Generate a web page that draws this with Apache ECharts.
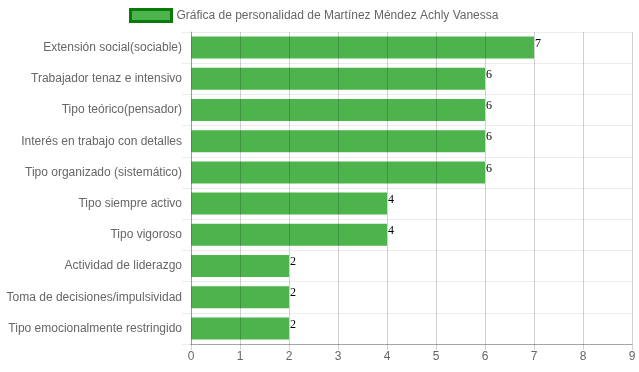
<!DOCTYPE html>
<html>
<head>
<meta charset="utf-8">
<script src="https://cdn.jsdelivr.net/npm/echarts@6/dist/echarts.min.js"></script>
<style>html,body{margin:0;padding:0;background:#fff}#c{width:639px;height:372px}</style>
</head>
<body>
<div id="c"></div>
<script>
const categories = [
  "Extensión social(sociable)",
  "Trabajador tenaz e intensivo",
  "Tipo teórico(pensador)",
  "Interés en trabajo con detalles",
  "Tipo organizado (sistemático)",
  "Tipo siempre activo",
  "Tipo vigoroso",
  "Actividad de liderazgo",
  "Toma de decisiones/impulsividad",
  "Tipo emocionalmente restringido"
];
const values = [7, 6, 6, 6, 6, 4, 4, 2, 2, 2];
const seriesName = "Gráfica de personalidad de Martínez Méndez Achly Vanessa";
const xTicks = { min: 0, max: 9, interval: 1 };

const chart = echarts.init(document.getElementById('c'), null, { renderer: 'canvas' });
chart.setOption({
  animation: false,
  textStyle: { fontFamily: 'Liberation Sans, Arial, sans-serif' },
  legend: {
    top: 8,
    left: 129,
    padding: 0,
    icon: 'rect',
    itemWidth: 41,
    itemHeight: 12,
    textStyle: { color: '#666', fontSize: 12, fontFamily: 'Liberation Sans, Arial, sans-serif' },
    itemStyle: { color: '#4db34d', borderColor: '#0a7a0a', borderWidth: 3 },
    data: [seriesName]
  },
  grid: { left: 191, right: 7, top: 32, bottom: 28, containLabel: false },
  xAxis: {
    type: 'value',
    min: xTicks.min, max: xTicks.max, interval: xTicks.interval,
    z: 5,
    axisLine: { show: true, onZero: false, lineStyle: { color: 'rgba(0,0,0,0.3)' } },
    axisTick: { show: true, length: 6, lineStyle: { color: 'rgba(0,0,0,0.18)' } },
    axisLabel: { color: '#666', fontSize: 12, margin: 7 },
    splitLine: { show: true, lineStyle: { color: 'rgba(0,0,0,0.18)' } }
  },
  yAxis: {
    type: 'category',
    inverse: true,
    data: categories,
    axisLine: { show: true, lineStyle: { color: 'rgba(0,0,0,0.25)' } },
    axisTick: { show: true, length: 9, lineStyle: { color: 'rgba(0,0,0,0.07)' } },
    axisLabel: { color: '#666', fontSize: 12, margin: 9 },
    splitLine: { show: true, lineStyle: { color: 'rgba(0,0,0,0.07)' } }
  },
  series: [{
    name: seriesName,
    type: 'bar',
    data: values,
    barWidth: 22,
    itemStyle: { color: '#4db34d' },
    label: {
      show: true,
      position: 'right',
      distance: 1,
      offset: [0, -4],
      color: '#000',
      fontSize: 12,
      fontFamily: 'Liberation Serif, Times New Roman, serif'
    }
  }]
});
</script>
</body>
</html>
